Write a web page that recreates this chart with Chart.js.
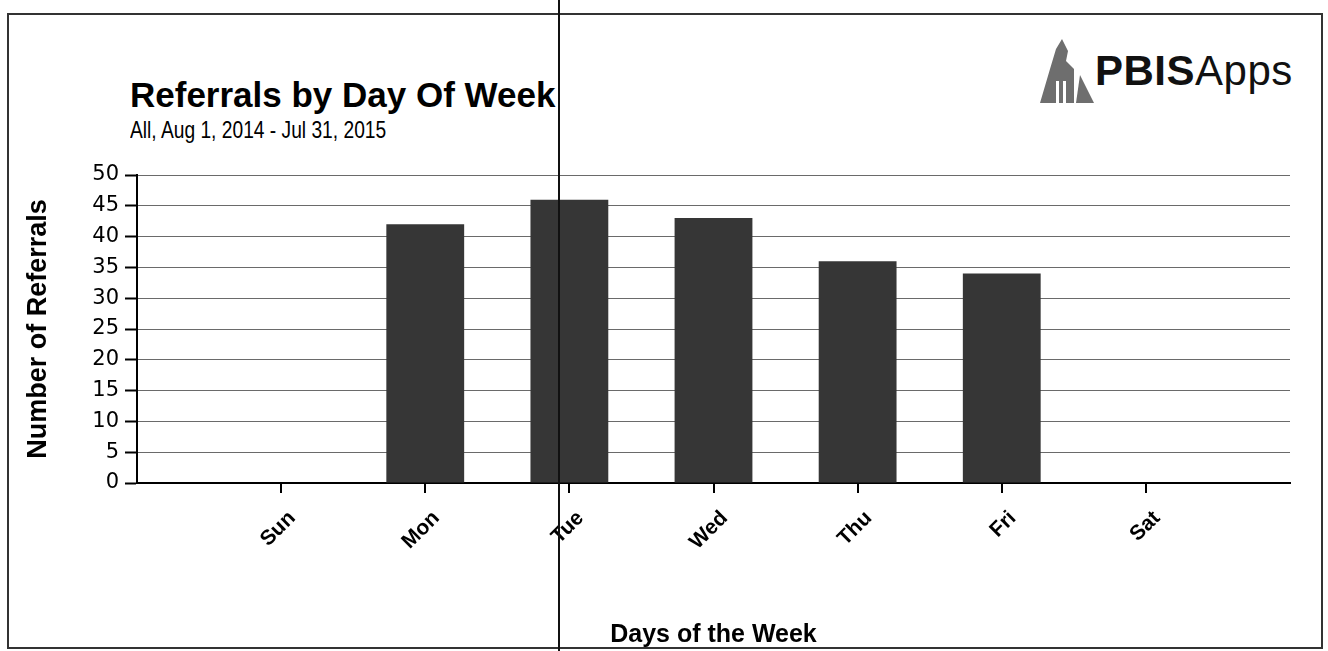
<!DOCTYPE html>
<html>
<head>
<meta charset="utf-8">
<script src="https://cdn.jsdelivr.net/npm/chart.js@4.4.1/dist/chart.umd.min.js"></script>
<style>
  html, body { margin: 0; padding: 0; background: #fff; }
  body { width: 1328px; height: 651px; position: relative; overflow: hidden; font-family: 'Liberation Sans', Arial, sans-serif; }
  #frame { position: absolute; left: 7px; top: 13px; width: 1312px; height: 632px; border: 2px solid #333; }
  #scanline { position: absolute; left: 558px; top: 0; width: 2px; height: 651px; background: #111; z-index: 5; }
  #title { position: absolute; left: 130px; top: 75px; font-size: 35px; font-weight: bold; color: #000; white-space: nowrap; }
  #subtitle { position: absolute; left: 130px; top: 116px; font-size: 24px; color: #000; white-space: nowrap; transform: scaleX(0.8); transform-origin: left top; }
  #logo { position: absolute; left: 1036px; top: 38px; height: 66px; display: flex; align-items: center; }
  #logo span { font-size: 42px; color: #111; letter-spacing: 0.5px; margin-left: 1px; }
  #chartWrap { position: absolute; left: 0; top: 0; width: 1328px; height: 651px; }
</style>
</head>
<body>
<div id="frame"></div>
<div id="title">Referrals by Day Of Week</div>
<div id="subtitle">All, Aug 1, 2014 - Jul 31, 2015</div>
<div id="logo">
  <svg width="58" height="64" viewBox="0 0 58 64">
    <polygon points="4,64 14,30 20,10 26,0 32,12 30,22 38,30 38,64" fill="#6e6e6e"/>
    <rect x="20" y="42" width="3" height="22" fill="#fff"/>
    <rect x="27" y="42" width="3" height="22" fill="#fff"/>
    <polygon points="40,64 44,36 58,64" fill="#6e6e6e"/>
  </svg>
  <span><b>PBIS</b>Apps</span>
</div>
<div id="chartWrap"><canvas id="myChart" width="1328" height="651"></canvas></div>
<div id="scanline"></div>

<script>
// days along the x axis, referrals counted per day
const days = ['Sun', 'Mon', 'Tue', 'Wed', 'Thu', 'Fri', 'Sat'];
const referrals = [0, 42, 46, 43, 36, 34, 0];
const yTicks = [0, 5, 10, 15, 20, 25, 30, 35, 40, 45, 50];

const barColor = '#363636';

// bars sit at x = 1..7 on a 0..8 linear axis so there is a gap at each end
const points = referrals.map((v, i) => ({ x: i + 1, y: v }));

const ctx = document.getElementById('myChart').getContext('2d');
const chart = new Chart(ctx, {
    type: 'bar',
    data: {
        datasets: [{
            label: 'Number of Referrals',
            data: points,
            backgroundColor: barColor,
            borderWidth: 0,
            barPercentage: 0.54,
            categoryPercentage: 1.0
        }]
    },
    options: {
        responsive: false,
        animation: false,
        layout: {
            padding: { left: 22, top: 175, right: 38, bottom: 1 }
        },
        scales: {
            x: {
                type: 'linear',
                min: 0,
                max: 8,
                offset: false,
                afterBuildTicks: (scale) => {
                    scale.ticks = days.map((d, i) => ({ value: i + 1 }));
                },
                afterFit: (scale) => { scale.height = 651 - 483 - 1; },
                ticks: {
                    maxRotation: 45,
                    minRotation: 45,
                    padding: 13,
                    labelOffset: 11,
                    color: '#000',
                    font: { family: 'Liberation Sans', size: 21, weight: 'bold' },
                    callback: (value) => days[value - 1]
                },
                grid: {
                    display: true,
                    offset: false,
                    drawOnChartArea: false,
                    drawTicks: true,
                    tickLength: 10,
                    tickColor: '#000',
                    lineWidth: 2
                },
                border: { display: true, color: '#000', width: 2 },
                title: {
                    display: true,
                    text: 'Days of the Week',
                    color: '#000',
                    font: { family: 'Liberation Sans', size: 25, weight: 'bold' },
                    padding: { top: 0, bottom: 0 }
                }
            },
            y: {
                min: 0,
                max: 50,
                afterBuildTicks: (scale) => {
                    scale.ticks = yTicks.map(v => ({ value: v }));
                },
                afterFit: (scale) => { scale.width = 137 - 22; },
                ticks: {
                    padding: 6,
                    color: '#000',
                    font: { family: 'DejaVu Sans', size: 21 }
                },
                grid: {
                    color: '#6a6a6a',
                    lineWidth: 1,
                    tickLength: 12,
                    tickColor: '#000',
                    tickWidth: 2
                },
                border: { display: true, color: '#000', width: 2 },
                title: {
                    display: true,
                    text: 'Number of Referrals',
                    color: '#000',
                    font: { family: 'Liberation Sans', size: 27, weight: 'bold' },
                    padding: { top: 0, bottom: 0 }
                }
            }
        },
        plugins: {
            legend: { display: false },
            tooltip: { enabled: false }
        }
    }
});
</script>
</body>
</html>
